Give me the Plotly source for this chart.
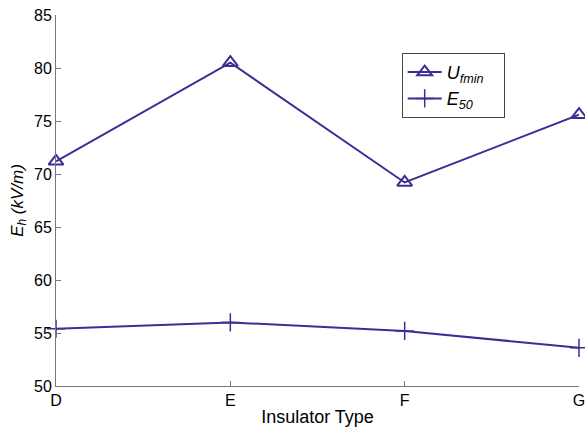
import plotly.graph_objects as go

categories = ["D", "E", "F", "G"]
u_fmin = [71.2, 80.5, 69.2, 75.6]
e_50 = [55.4, 56.0, 55.2, 53.6]
y_ticks = [50, 55, 60, 65, 70, 75, 80, 85]

color = "#3b2e94"
xs = list(range(len(categories)))

fig = go.Figure()
fig.add_trace(go.Scatter(
    x=xs, y=u_fmin, mode="lines+markers", name="<i>U<sub>fmin</sub></i>   ",
    line=dict(color=color, width=2),
    marker=dict(symbol="triangle-up-open", size=13, color=color, line=dict(width=2, color=color)),
    cliponaxis=False,
))
fig.add_trace(go.Scatter(
    x=xs, y=e_50, mode="lines+markers", name="<i>E<sub>50</sub></i>",
    line=dict(color=color, width=2),
    marker=dict(symbol="cross-thin-open", size=13, color=color, line=dict(width=1.5, color=color)),
    cliponaxis=False,
))

fig.update_layout(
    width=585, height=428,
    margin=dict(l=56, r=6, t=15, b=42, autoexpand=False),
    paper_bgcolor="white", plot_bgcolor="white",
    font=dict(family="Liberation Sans, Arial, sans-serif", size=16, color="black"),
    showlegend=True,
    legend=dict(
        x=0.661, y=0.898, xanchor="left", yanchor="top",
        bordercolor="#444444", borderwidth=1, bgcolor="white",
        font=dict(size=18), tracegroupgap=0, itemwidth=34,
    ),
)
fig.update_xaxes(
    range=[0, 3], tickvals=xs, ticktext=categories,
    showline=True, linecolor="#777777", linewidth=1, mirror=False,
    ticks="inside", ticklen=5, tickcolor="#777777",
    showgrid=False, zeroline=False, ticklabeloverflow="allow", automargin=False,
    title=dict(text="Insulator Type", font=dict(size=18), standoff=2),
    tickfont=dict(size=16),
)
fig.update_yaxes(
    range=[50, 85], tickvals=y_ticks,
    showline=True, linecolor="#777777", linewidth=1, mirror=False,
    ticks="inside", ticklen=5, tickcolor="#777777",
    showgrid=False, zeroline=False, ticklabeloverflow="allow", automargin=False,
    title=dict(text="<i>E<sub>h</sub> (kV/m)</i>", font=dict(size=17), standoff=6),
    tickfont=dict(size=16),
)

fig.write_html("out.html")
